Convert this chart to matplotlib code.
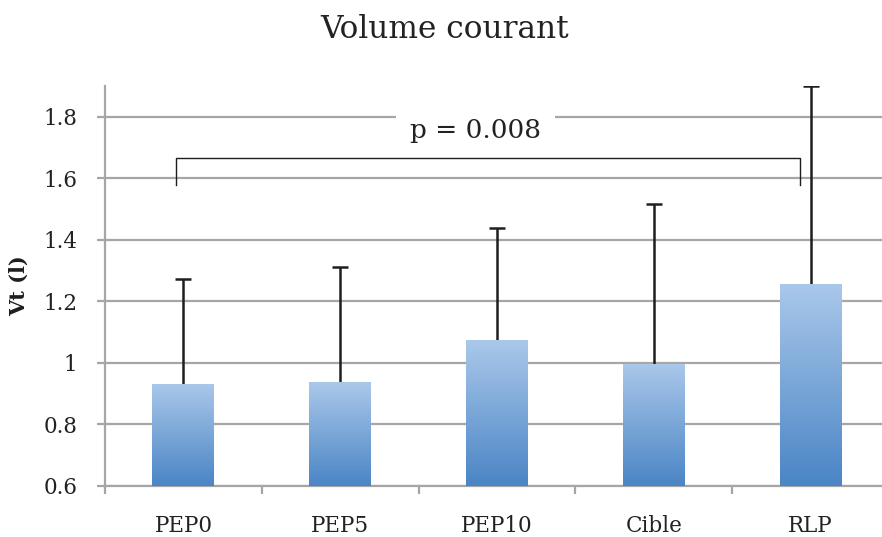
import numpy as np
import matplotlib
matplotlib.use("Agg")
import matplotlib.pyplot as plt
from matplotlib.colors import LinearSegmentedColormap

categories = ["PEP0", "PEP5", "PEP10", "Cible", "RLP"]
means = [0.932, 0.937, 1.074, 0.998, 1.257]
sd_upper = [0.341, 0.375, 0.365, 0.518, 0.643]
yticks = [0.6, 0.8, 1.0, 1.2, 1.4, 1.6, 1.8]
yticklabels = ["0.6", "0.8", "1", "1.2", "1.4", "1.6", "1.8"]
title = "Volume courant"
ylabel = "Vt (l)"
p_text = "p = 0.008"
bracket_y = 1.665
bracket_drop = 1.578

plt.rcParams["font.family"] = ["DejaVu Serif"]

fig = plt.figure(figsize=(8.82, 5.37), dpi=100)
ax = fig.add_axes([105/882, 51/537, 784/882, 400/537])

x = np.arange(len(categories))
bars = ax.bar(x, means, width=0.395, color="none", edgecolor="none", zorder=3)

grad = np.linspace(0, 1, 256).reshape(-1, 1)
cmap = LinearSegmentedColormap.from_list("g", ["#4a85c5", "#aac8ea"])
for b in bars:
    x0 = b.get_x(); w = b.get_width(); h = b.get_height()
    im = ax.imshow(grad, extent=(x0, x0 + w, 0.6, h), origin="lower", cmap=cmap,
                   aspect="auto", zorder=3)
    im.set_clip_path(b)

eb = ax.errorbar(x, means, yerr=[np.zeros(len(means)), sd_upper], fmt="none",
                 ecolor="#1e1e1e", elinewidth=1.8, capsize=5.5, capthick=1.8, zorder=2)
for cl in eb[1]:
    yd = np.asarray(cl.get_ydata(), dtype=float)
    if np.allclose(yd, means):
        cl.set_visible(False)

ax.set_xlim(-0.5, len(categories) - 0.5)
ax.set_ylim(0.6, 1.9)
ax.set_yticks(yticks)
ax.set_yticklabels(yticklabels)
ax.yaxis.grid(True, color="#a6a6a6", linewidth=1.6, zorder=0)
ax.set_axisbelow(True)

ax.set_xticks(x)
ax.set_xticklabels(categories)
ax.set_xticks(np.arange(len(categories) + 1) - 0.5, minor=True)
ax.tick_params(axis="x", which="major", length=0, pad=21, labelsize=15.5, labelcolor="#222222")
ax.tick_params(axis="x", which="minor", length=6, width=1.6, color="#a6a6a6")
ax.tick_params(axis="y", length=6, width=1.6, color="#a6a6a6", pad=14, labelsize=15.5,
               labelcolor="#222222")

for s in ["top", "right"]:
    ax.spines[s].set_visible(False)
for s in ["left", "bottom"]:
    ax.spines[s].set_color("#a6a6a6")
    ax.spines[s].set_linewidth(1.6)

# significance bracket
ax.plot([-0.05, -0.05, 3.93, 3.93], [bracket_drop, bracket_y, bracket_y, bracket_drop],
        color="#1e1e1e", linewidth=1.0, zorder=6)
ax.text(1.865, 1.755, p_text, ha="center", va="center", fontsize=19, color="#222222",
        zorder=5, bbox=dict(facecolor="white", edgecolor="none", pad=10))

ax.set_ylabel(ylabel, fontsize=15, fontweight="bold", labelpad=10, color="#1e1e1e")
fig.text(445/882, 1 - 29/537, title, ha="center", va="center", fontsize=22.5, color="#222222")

fig.savefig("out.png", dpi=100)
